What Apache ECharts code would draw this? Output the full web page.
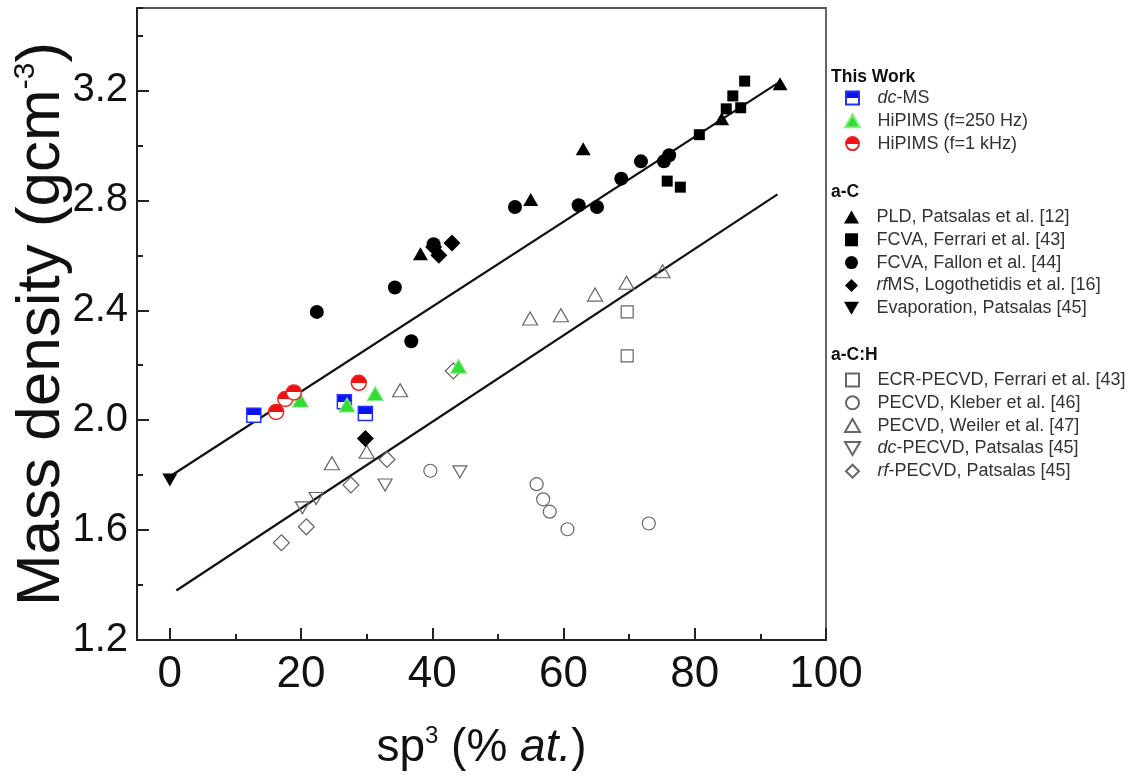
<!DOCTYPE html>
<html>
<head>
<meta charset="utf-8">
<script src="https://cdn.jsdelivr.net/npm/echarts@6/dist/echarts.min.js"></script>
<style>html,body{margin:0;padding:0;background:#fff;}#c{width:1143px;height:783px;}</style>
</head>
<body>
<div id="c"></div>
<script>
// ---- Data (sp3 %, mass density g/cm3) ----
const dcMS = [[12.8, 2.018], [26.6, 2.067], [29.8, 2.024]];
const hipims250 = [[19.9, 2.073], [27.0, 2.055], [31.3, 2.097], [44.0, 2.196]];
const hipims1k = [[16.2, 2.03], [17.6, 2.077], [18.9, 2.101], [28.8, 2.136]];
const pld = [[38.2, 2.606], [55.0, 2.803], [63.0, 2.988], [84.1, 3.097], [93.0, 3.224]];
const fcvaFerrari = [[75.8, 2.870], [77.8, 2.848], [80.7, 3.039], [84.8, 3.133], [85.8, 3.180], [87.0, 3.137], [87.6, 3.234]];
const fcvaFallon = [[22.4, 2.394], [34.3, 2.483], [36.8, 2.287], [40.2, 2.640], [52.6, 2.776], [62.3, 2.782], [65.1, 2.776], [68.8, 2.879], [71.8, 2.942], [75.3, 2.942], [76.1, 2.964]];
const rfMS = [[40.2, 2.630], [41.0, 2.600], [43.0, 2.645], [29.8, 1.933]];
const evaporation = [[0, 1.782]];
const ecrPecvd = [[69.7, 2.394], [69.7, 2.234]];
const pecvdKleber = [[39.7, 1.816], [55.9, 1.767], [56.9, 1.712], [57.9, 1.667], [60.6, 1.603], [73.0, 1.624]];
const pecvdWeiler = [[24.7, 1.843], [30.0, 1.885], [35.1, 2.109], [54.9, 2.370], [59.6, 2.382], [64.8, 2.457], [69.6, 2.500], [75.1, 2.542]];
const dcPecvd = [[20.2, 1.681], [22.3, 1.715], [32.8, 1.764], [44.2, 1.812]];
const rfPecvd = [[17.0, 1.554], [20.8, 1.612], [27.6, 1.764], [33.1, 1.857], [43.2, 2.179]];
const fitUpper = [[0, 1.795], [93, 3.232]];
const fitLower = [[1, 1.38], [92.6, 2.822]];
const xRange = [-5, 100];
const yRange = [1.2, 3.5];

const FONT = "'Liberation Sans', Arial, Helvetica, sans-serif";
const P_SQUARE = 'path://M0,0 L10,0 L10,10 L0,10 Z';
const P_TRI = 'path://M5,0 L10,8.66 L0,8.66 Z';
const P_DOWN = 'path://M0,0 L10,0 L5,8.66 Z';
const P_CIRCLE = 'path://M10,5 A5,5 0 1,1 0,5 A5,5 0 1,1 10,5 Z';
const P_DIAMOND = 'path://M5,0 L10,5 L5,10 L0,5 Z';
function halfFill(c) {
  return {type: 'linear', x: 0, y: 0, x2: 0, y2: 1,
    colorStops: [{offset: 0, color: c}, {offset: 0.5, color: c}, {offset: 0.5, color: '#ffffff'}, {offset: 1, color: '#ffffff'}]};
}
const openStyle = {color: 'rgba(255,255,255,0)', borderColor: '#666', borderWidth: 1.2};
function sc(name, data, symbol, size, itemStyle) {
  return {name: name, type: 'scatter', data: data, symbol: symbol, symbolSize: size,
    itemStyle: Object.assign({opacity: 1}, itemStyle), z: 3, silent: true};
}
const series = [
  {type: 'line', data: fitUpper, symbol: 'none', lineStyle: {color: '#111', width: 2.2}, z: 2, silent: true},
  {type: 'line', data: fitLower, symbol: 'none', lineStyle: {color: '#111', width: 2.2}, z: 2, silent: true},
  sc('rf-PECVD', rfPecvd, 'diamond', 16, openStyle),
  sc('dc-PECVD', dcPecvd, P_DOWN, [14, 12], openStyle),
  sc('PECVD-W', pecvdWeiler, 'triangle', [15, 13], openStyle),
  sc('PECVD-K', pecvdKleber, 'circle', 13, openStyle),
  sc('ECR', ecrPecvd, 'rect', 12, openStyle),
  sc('Evap', evaporation, P_DOWN, [15, 13], {color: '#000'}),
  sc('rfMS', rfMS, 'diamond', 17, {color: '#000'}),
  sc('Fallon', fcvaFallon, 'circle', 14, {color: '#000'}),
  sc('Ferrari', fcvaFerrari, 'rect', 11, {color: '#000'}),
  sc('PLD', pld, 'triangle', [15, 13], {color: '#000'}),
  sc('dc-MS', dcMS, 'rect', 14, {color: halfFill('#1010ee'), borderColor: '#2030ff', borderWidth: 1.5}),
  sc('HiPIMS250', hipims250, 'triangle', [16, 14], {color: '#33dd33', borderColor: '#88ee88', borderWidth: 1}),
  sc('HiPIMS1k', hipims1k, 'circle', 15, {color: halfFill('#ee1111'), borderColor: '#ee2222', borderWidth: 1.5})
];
const labels = {
  'dc-MS': '{i|dc}-MS',
  'HiPIMS250': 'HiPIMS (f=250 Hz)',
  'HiPIMS1k': 'HiPIMS (f=1 kHz)',
  'PLD': 'PLD, Patsalas et al. [12]',
  'Ferrari': 'FCVA, Ferrari et al. [43]',
  'Fallon': 'FCVA, Fallon et al. [44]',
  'rfMS': '{i|rf}MS, Logothetidis et al. [16]',
  'Evap': 'Evaporation, Patsalas [45]',
  'ECR': 'ECR-PECVD, Ferrari et al. [43]',
  'PECVD-K': 'PECVD, Kleber et al. [46]',
  'PECVD-W': 'PECVD, Weiler et al. [47]',
  'dc-PECVD': '{i|dc}-PECVD, Patsalas [45]',
  'rf-PECVD': '{i|rf}-PECVD, Patsalas [45]'
};
const legendIcons = {
  'dc-MS': P_SQUARE, 'HiPIMS250': P_TRI, 'HiPIMS1k': P_CIRCLE,
  'PLD': P_TRI, 'Ferrari': P_SQUARE, 'Fallon': P_CIRCLE, 'rfMS': P_DIAMOND, 'Evap': P_DOWN,
  'ECR': P_SQUARE, 'PECVD-K': P_CIRCLE, 'PECVD-W': P_TRI, 'dc-PECVD': P_DOWN, 'rf-PECVD': P_DIAMOND
};
function leg(names, top) {
  return {
    data: names.map(function (n) { return {name: n, icon: legendIcons[n]}; }),
    orient: 'vertical', left: 839, top: top, itemWidth: 40, itemHeight: 13, itemGap: 4.8,
    selectedMode: false, symbolKeepAspect: true,
    formatter: function (n) { return labels[n]; },
    textStyle: {fontFamily: FONT, fontSize: 18, color: '#333',
      rich: {i: {fontStyle: 'italic', fontFamily: FONT, fontSize: 18, color: '#333'}}}
  };
}
const option = {
  backgroundColor: '#fff',
  animation: false,
  grid: {left: 137, right: 317, top: 8, bottom: 143, show: true, borderColor: '#555', borderWidth: 1.8,
    backgroundColor: 'transparent', containLabel: false, outerBoundsMode: 'none'},
  xAxis: [
    {type: 'value', min: xRange[0], max: xRange[1], splitNumber: 5, position: 'bottom',
      axisLine: {show: true, onZero: false, lineStyle: {color: '#222', width: 2}},
      axisTick: {show: true, inside: true, length: 12, lineStyle: {color: '#222', width: 2}},
      axisLabel: {showMinLabel: false, fontFamily: FONT, fontSize: 44, color: '#111', margin: 13},
      splitLine: {show: false},
      name: '{n|sp}{s|3}{n| (% }{i|at.}{n|)}', nameLocation: 'middle', nameGap: 84, nameMoveOverlap: false,
      nameTextStyle: {rich: {n: {fontFamily: FONT, fontSize: 46, color: '#111'},
        s: {fontFamily: FONT, fontSize: 24, color: '#111', verticalAlign: 'top', padding: [0, 0, 24, 0]},
        i: {fontFamily: FONT, fontSize: 46, fontStyle: 'italic', color: '#111'}}}},
    {type: 'value', min: xRange[0], max: xRange[1], splitNumber: 10, position: 'bottom',
      axisLine: {show: false, onZero: false}, axisLabel: {show: false}, splitLine: {show: false},
      axisTick: {show: true, inside: true, length: 6, lineStyle: {color: '#222', width: 2}}}
  ],
  yAxis: [
    {type: 'value', min: yRange[0], max: yRange[1], interval: 0.4, position: 'left',
      axisLine: {show: true, onZero: false, lineStyle: {color: '#222', width: 2}},
      axisTick: {show: true, inside: true, length: 12, lineStyle: {color: '#222', width: 2}},
      axisLabel: {showMaxLabel: false, fontFamily: FONT, fontSize: 40, color: '#111', margin: 9,
        formatter: function (v) { return v.toFixed(1); }},
      splitLine: {show: false},
      name: '{n|Mass density (gcm}{s|-3}{n|)}', nameLocation: 'middle', nameGap: 64, nameRotate: 90,
      nameMoveOverlap: false,
      nameTextStyle: {rich: {n: {fontFamily: FONT, fontSize: 62, color: '#111'},
        s: {fontFamily: FONT, fontSize: 30, color: '#111', verticalAlign: 'top', padding: [0, 0, 32, 0]}}}},
    {type: 'value', min: yRange[0], max: yRange[1], interval: 0.2, position: 'left',
      axisLine: {show: false, onZero: false}, axisLabel: {show: false}, splitLine: {show: false},
      axisTick: {show: true, inside: true, length: 6, lineStyle: {color: '#222', width: 2}}}
  ],
  legend: [
    leg(['dc-MS', 'HiPIMS250', 'HiPIMS1k'], 84),
    leg(['PLD', 'Ferrari', 'Fallon', 'rfMS', 'Evap'], 203),
    leg(['ECR', 'PECVD-K', 'PECVD-W', 'dc-PECVD', 'rf-PECVD'], 366)
  ],
  graphic: [
    {type: 'text', left: 831, top: 68, style: {text: 'This Work', fontFamily: FONT, fontSize: 17.5, fontWeight: 'bold', fill: '#111'}},
    {type: 'text', left: 831, top: 183, style: {text: 'a-C', fontFamily: FONT, fontSize: 17.5, fontWeight: 'bold', fill: '#111'}},
    {type: 'text', left: 831, top: 346, style: {text: 'a-C:H', fontFamily: FONT, fontSize: 17.5, fontWeight: 'bold', fill: '#111'}}
  ],
  series: series
};
const chart = echarts.init(document.getElementById('c'), null, {renderer: 'canvas'});
chart.setOption(option);
</script>
</body>
</html>
